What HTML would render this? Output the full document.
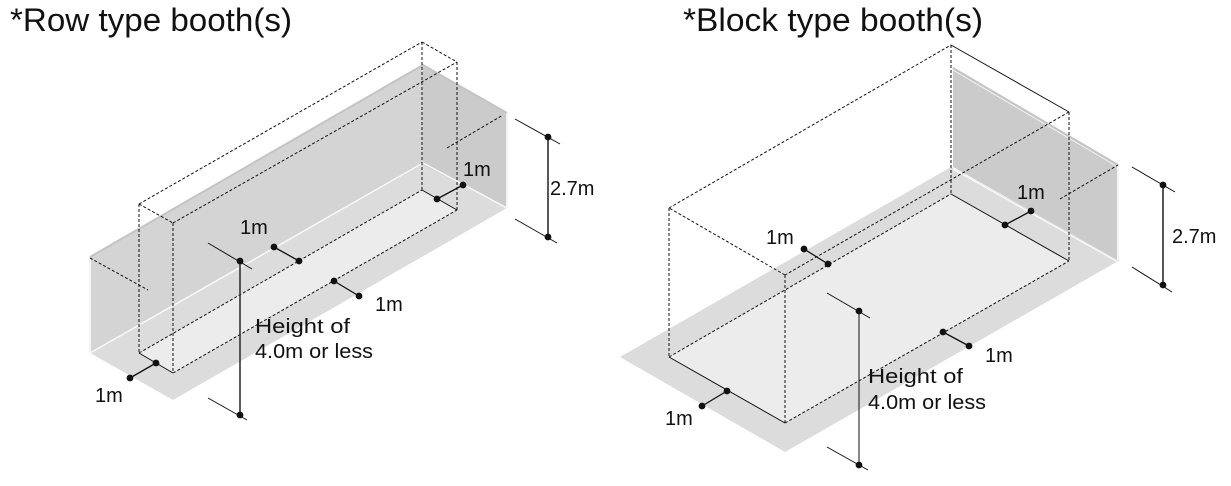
<!DOCTYPE html>
<html><head><meta charset="utf-8"><style>
html,body{margin:0;padding:0;background:#fff;}
svg{display:block;}
text{font-family:"Liberation Sans",Arial,sans-serif;fill:#111;}
</style></head><body>
<svg width="1231" height="486" viewBox="0 0 1231 486" xmlns="http://www.w3.org/2000/svg">
<text x="10" y="31" font-size="32" textLength="282" lengthAdjust="spacingAndGlyphs">*Row type booth(s)</text>
<text x="683" y="31" font-size="32" textLength="300" lengthAdjust="spacingAndGlyphs">*Block type booth(s)</text>

<g>
<polygon points="90,353 423,165 507,208 173,400" fill="#dcdcdc"/>
<polygon points="139,353 422,190 457,210 173,373" fill="#ececec"/>
<polygon points="90,257 423,65 423,165 90,353" fill="#d4d4d4"/>
<polygon points="423,65 507,113 507,208 423,165" fill="#cbcbcb"/>
<polyline points="90,257 423,65 507,113" fill="none" stroke="#c4c4c4" stroke-width="2"/>
<line x1="90" y1="257" x2="90" y2="353" stroke="#f4f4f4" stroke-width="2"/>
<line x1="507" y1="113" x2="507" y2="208" stroke="#f4f4f4" stroke-width="2"/>
<polyline points="90,353 423,163 507,208" fill="none" stroke="#f8f8f8" stroke-width="1.5"/>
<g stroke="#111" stroke-width="1" fill="none" stroke-dasharray="3,2">
<line x1="139" y1="204" x2="139" y2="353"/>
<line x1="173" y1="223" x2="173" y2="373"/>
<line x1="422" y1="42" x2="422" y2="190"/>
<line x1="457" y1="62" x2="457" y2="210"/>
<line x1="139" y1="204" x2="422" y2="42"/>
<line x1="173" y1="223" x2="457" y2="62"/>
<line x1="139" y1="204" x2="173" y2="223"/>
<line x1="422" y1="42" x2="457" y2="62"/>
<line x1="139" y1="353" x2="422" y2="190"/>
<line x1="173" y1="373" x2="457" y2="210"/>
<line x1="90" y1="258" x2="148" y2="290"/>
<line x1="447" y1="148" x2="503" y2="115"/>
</g>
<g stroke="#111" stroke-width="1" fill="none">
<line x1="139" y1="353" x2="173" y2="373"/>
<line x1="422" y1="190" x2="457" y2="210"/>
<line x1="130" y1="378" x2="156" y2="363" stroke-width="1.3"/>
<line x1="274" y1="247" x2="299" y2="261" stroke-width="1.3"/>
<line x1="334" y1="281" x2="359" y2="296" stroke-width="1.3"/>
<line x1="437" y1="199" x2="463" y2="185" stroke-width="1.3"/>
<line x1="548" y1="137" x2="548" y2="237" stroke-width="1.4"/>
<line x1="515" y1="119" x2="560" y2="144"/>
<line x1="515" y1="219" x2="557" y2="243"/>
<line x1="240" y1="261" x2="240" y2="415" stroke="#333" stroke-width="1.6"/>
<line x1="208" y1="243" x2="252" y2="269"/>
<line x1="208" y1="398" x2="247" y2="420"/>
</g>
<g fill="#111">
<circle cx="130" cy="378" r="3.4"/><circle cx="156" cy="363" r="3.4"/>
<circle cx="274" cy="247" r="3.4"/><circle cx="299" cy="261" r="3.4"/>
<circle cx="334" cy="281" r="3.4"/><circle cx="359" cy="296" r="3.4"/>
<circle cx="437" cy="199" r="3.4"/><circle cx="463" cy="185" r="3.4"/>
<circle cx="548" cy="137" r="3.4"/><circle cx="548" cy="237" r="3.4"/>
<circle cx="240" cy="261" r="3.4"/><circle cx="240" cy="415" r="3.4"/>
</g>
<g font-size="20">
<text x="95" y="402">1m</text>
<text x="240" y="234">1m</text>
<text x="375" y="311">1m</text>
<text x="463" y="176">1m</text>
<text x="550" y="195">2.7m</text>
<text x="255" y="333" textLength="95" lengthAdjust="spacingAndGlyphs">Height of</text>
<text x="255" y="358" textLength="118" lengthAdjust="spacingAndGlyphs">4.0m or less</text>
</g>
</g>

<g>
<polygon points="620,357 951,167 1120,260 785,452" fill="#dcdcdc"/>
<polygon points="669,357 951,194 1069,261 785,423" fill="#ececec"/>
<polygon points="953,68 1118,165 1118,260 953,167" fill="#cbcbcb"/>
<line x1="953" y1="68" x2="1118" y2="165" stroke="#c4c4c4" stroke-width="2"/>
<line x1="953" y1="70" x2="1118" y2="167" stroke="#f4f4f4" stroke-width="1"/>
<line x1="953" y1="169" x2="1118" y2="262" stroke="#f8f8f8" stroke-width="1.5"/>
<line x1="1118" y1="165" x2="1118" y2="260" stroke="#f4f4f4" stroke-width="2"/>
<g stroke="#111" stroke-width="1" fill="none" stroke-dasharray="3,2">
<line x1="669" y1="208" x2="669" y2="357"/>
<line x1="951" y1="45" x2="951" y2="194"/>
<line x1="1069" y1="112" x2="1069" y2="261"/>
<line x1="785" y1="275" x2="785" y2="423"/>
<line x1="669" y1="208" x2="951" y2="45"/>
<line x1="1069" y1="112" x2="785" y2="275"/>
<line x1="785" y1="275" x2="669" y2="208"/>
<line x1="669" y1="357" x2="951" y2="194"/>
<line x1="785" y1="423" x2="1069" y2="261"/>
<line x1="1060" y1="199" x2="1118" y2="165"/>
</g>
<g stroke="#111" stroke-width="1" fill="none">
<line x1="951" y1="45" x2="1069" y2="112"/>
<line x1="669" y1="357" x2="785" y2="423"/>
<line x1="951" y1="194" x2="1069" y2="261"/>
<line x1="702" y1="406" x2="727" y2="391" stroke-width="1.3"/>
<line x1="804" y1="249" x2="828" y2="264" stroke-width="1.3"/>
<line x1="943" y1="332" x2="969" y2="346" stroke-width="1.3"/>
<line x1="1005" y1="225" x2="1031" y2="211" stroke-width="1.3"/>
<line x1="1163" y1="185" x2="1163" y2="285" stroke-width="1.4"/>
<line x1="1132" y1="167" x2="1175" y2="192"/>
<line x1="1132" y1="267" x2="1172" y2="292"/>
<line x1="859" y1="311" x2="859" y2="465"/>
<line x1="827" y1="293" x2="870" y2="318"/>
<line x1="827" y1="447" x2="868" y2="470"/>
</g>
<g fill="#111">
<circle cx="702" cy="406" r="3.4"/><circle cx="727" cy="391" r="3.4"/>
<circle cx="804" cy="249" r="3.4"/><circle cx="828" cy="264" r="3.4"/>
<circle cx="943" cy="332" r="3.4"/><circle cx="969" cy="346" r="3.4"/>
<circle cx="1005" cy="225" r="3.4"/><circle cx="1031" cy="211" r="3.4"/>
<circle cx="1163" cy="185" r="3.4"/><circle cx="1163" cy="285" r="3.4"/>
<circle cx="859" cy="311" r="3.4"/><circle cx="859" cy="465" r="3.4"/>
</g>
<g font-size="20">
<text x="665" y="425">1m</text>
<text x="766" y="244">1m</text>
<text x="985" y="362">1m</text>
<text x="1017" y="199">1m</text>
<text x="1172" y="243">2.7m</text>
<text x="868" y="383" textLength="95" lengthAdjust="spacingAndGlyphs">Height of</text>
<text x="868" y="409" textLength="118" lengthAdjust="spacingAndGlyphs">4.0m or less</text>
</g>
</g>
</svg>
</body></html>
